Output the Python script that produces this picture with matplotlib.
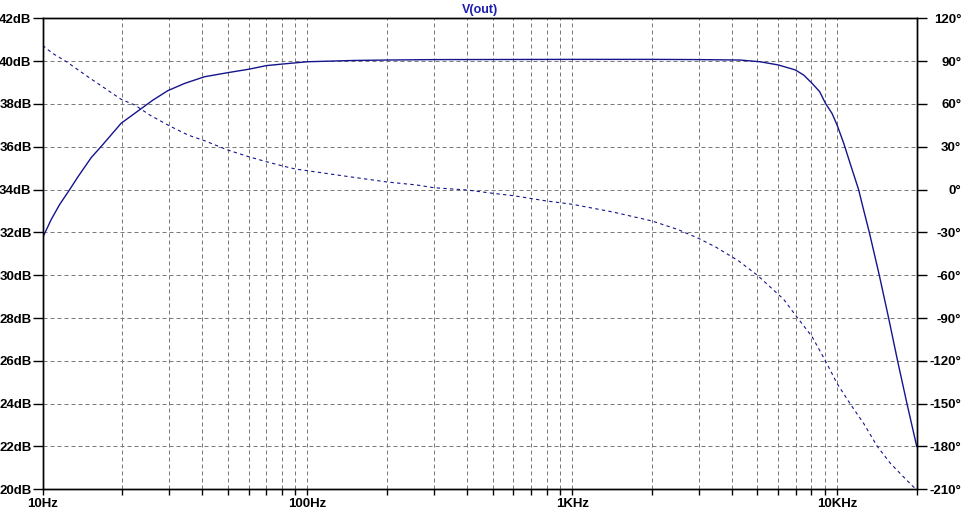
import matplotlib
matplotlib.use("Agg")
import matplotlib.pyplot as plt
from matplotlib.ticker import FixedLocator, NullFormatter, LogLocator

# magnitude trace (left axis, dB)
mag_freq = [10, 10.77, 11.59, 12.65, 13.6, 15.27, 16.6, 17.9, 19.8, 21.6, 23.2, 26.1,
            29.7, 34.4, 40.9, 50, 60, 70, 80, 100, 150, 200, 300, 1000, 2000, 3000,
            4300, 5120, 6000, 6950, 7480, 8050, 8600, 9040, 9570, 10000, 10600,
            11200, 12060, 12600, 13240, 14440, 15660, 16930, 18370, 20000]
mag_db = [31.75, 32.6, 33.3, 34.0, 34.6, 35.5, 36.0, 36.47, 37.1, 37.44, 37.72,
          38.18, 38.62, 38.96, 39.27, 39.46, 39.62, 39.79, 39.86, 39.97, 40.03,
          40.05, 40.07, 40.08, 40.08, 40.07, 40.05, 39.97, 39.82, 39.59, 39.35,
          38.96, 38.57, 38.03, 37.56, 37.02, 36.16, 35.23, 34.0, 33.05, 32.0,
          30.0, 28.0, 26.0, 24.0, 22.0]

# phase trace (right axis, degrees)
phase_freq = [10, 10.5, 11, 12.3, 14.8, 17.2, 19.8, 22.3, 25.4, 30.2, 35.4, 40.9, 50,
              60, 70, 80, 90, 100, 133, 200, 259, 300, 400, 500, 600, 800, 1000,
              1430, 2000, 2500, 3000, 3500, 4250, 5000, 6280, 7100, 8050, 9040,
              10000, 11200, 12600, 14200, 15900, 17800, 19400, 20000]
phase_deg = [101, 97.8, 95, 89.6, 79.1, 70.9, 63.2, 59.2, 52.2, 44.5, 38.2, 34.2,
             27.7, 23.0, 19.5, 16.7, 14.4, 13.2, 9.9, 5.3, 3.2, 1.3, -0.3, -2.6,
             -4.3, -8.0, -10.3, -15.8, -22.0, -27.9, -34.2, -40.5, -50, -60, -76.8,
             -90, -103.1, -120, -135.8, -150, -163.8, -180, -191.8, -201.2, -208.2,
             -210]

db_ticks = list(range(20, 43, 2))
deg_ticks = list(range(-210, 121, 30))
decade_ticks = [10, 100, 1000, 10000]
decade_labels = ["10Hz", "100Hz", "1KHz", "10KHz"]

trace_color = "#14148c"
grid_color = "#7a7a7a"
font = dict(family="Liberation Sans", weight="bold", size=9.5)

fig = plt.figure(figsize=(9.65, 5.15), dpi=100)
ax = fig.add_axes([0.0442, 0.0499, 0.9058, 0.9146])
ax2 = ax.twinx()

ax.set_xscale("log")
ax.set_xlim(10, 20000)
ax.set_ylim(20, 42)
ax2.set_ylim(-210, 120)

ax.plot(mag_freq, mag_db, color=trace_color, lw=1.0, solid_joinstyle="round")
ax2.plot(phase_freq, phase_deg, color=trace_color, lw=0.8, linestyle=(0, (3, 3)))

ax.xaxis.set_major_locator(FixedLocator(decade_ticks))
ax.set_xticklabels(decade_labels, fontdict=font)
ax.xaxis.set_minor_locator(LogLocator(base=10, subs=range(2, 10), numticks=20))
ax.xaxis.set_minor_formatter(NullFormatter())

ax.set_yticks(db_ticks)
ax.set_yticklabels([f"{v}dB" for v in db_ticks], fontdict=font)
ax2.set_yticks(deg_ticks)
ax2.set_yticklabels([f"{v}°" for v in deg_ticks], fontdict=font, ha="right")

ax.tick_params(axis="x", which="both", length=4, width=1, pad=2, direction="out")
ax.tick_params(axis="y", length=7, width=1, pad=1, direction="out")
ax2.tick_params(axis="y", length=7, width=1, pad=25, direction="out")

ax.grid(True, which="both", axis="x", color=grid_color, lw=0.72, linestyle=(0, (4, 3)))
ax.grid(True, which="major", axis="y", color=grid_color, lw=0.72, linestyle=(0, (4, 3)))

for a in (ax, ax2):
    for s in a.spines.values():
        s.set_linewidth(1.0)
        s.set_color("black")

fig.text(0.4971, 1 - 9.5 / 515, "V(out)", ha="center", va="center",
         color="#1c1cb0", family="Liberation Sans", weight="bold", size=9)

fig.savefig("out.png", dpi=100)
